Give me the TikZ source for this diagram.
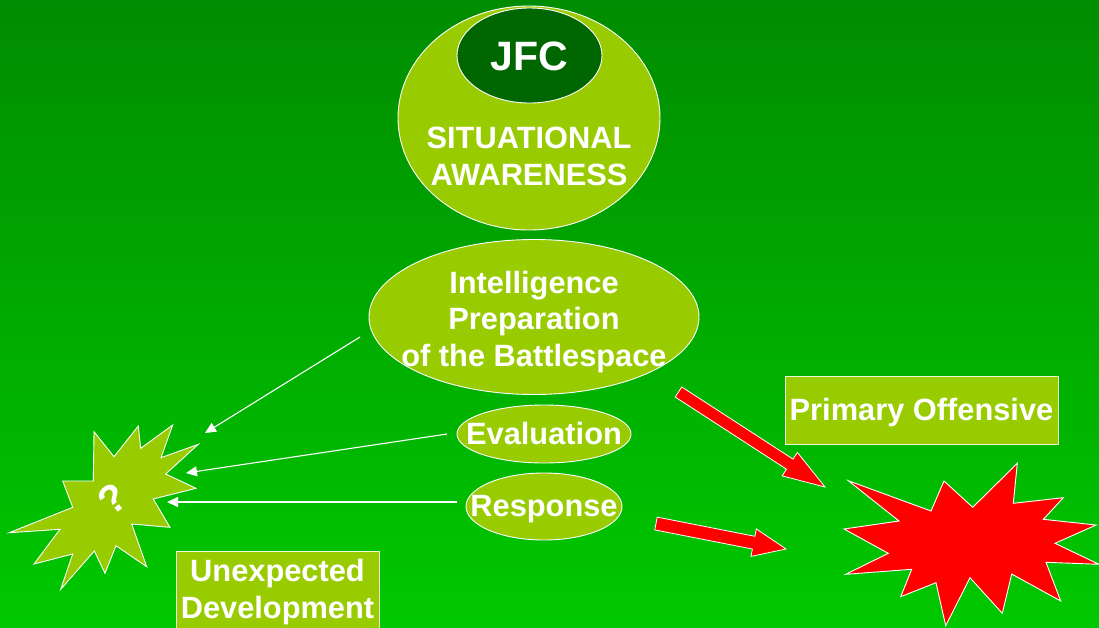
\documentclass[tikz,border=0pt]{standalone}
\usepackage{fontspec}
\setmainfont{Liberation Sans}
\usetikzlibrary{shapes.geometric,arrows.meta}

\definecolor{lime}{HTML}{99CC00}
\definecolor{jfcgreen}{HTML}{006600}
\definecolor{bgtop}{HTML}{008C00}
\definecolor{bgmid}{HTML}{00AE00}
\definecolor{bgbot}{HTML}{00C800}

\tikzset{
  oval/.style={ellipse, fill=lime, draw=white, line width=0.9pt, inner sep=0pt},
  label30/.style={text=white, font=\fontsize{30.8}{36.5}\selectfont\bfseries, inner sep=0pt, align=center},
  limebox/.style={rectangle, fill=lime, draw=white!85!lime, line width=0.9pt, inner sep=0pt},
  thinarrow/.style={draw=white, line width=1.1pt, -{Triangle[length=11pt,width=10pt]}},
  burst/.style={draw=white, line width=0.9pt, line join=miter},
  blockarrow/.style={fill=red, draw=white, line width=0.8pt}
}

% block arrow along local x: length, shaft half width, head length, head half width
\newcommand{\blockarrowshape}[4]{%
  (0,-#2) -- ({#1-#3},-#2) -- ({#1-#3},-#4) -- (#1,0) -- ({#1-#3},#4) -- ({#1-#3},#2) -- (0,#2) -- cycle}

\begin{document}
\begin{tikzpicture}[x=1pt,y=-1pt]
  \useasboundingbox (0,0) rectangle (1099,627);
  \clip (0,0) rectangle (1099,627);
  \shade[top color=bgtop, middle color=bgmid, bottom color=bgbot] (0,0) rectangle (1099,627);

  % situational awareness with the JFC at its core
  \node[oval, minimum width=262pt, minimum height=224pt] (sa) at (529,118) {};
  \node[ellipse, fill=jfcgreen, draw=white, line width=0.9pt, inner sep=0pt,
        minimum width=145pt, minimum height=95pt] (jfc) at (529.5,55.5) {};
  \node[text=white, font=\fontsize{41}{48}\selectfont\bfseries, anchor=base] (jfct) at (529,70) {JFC};
  \node[label30, anchor=base] (sat) at (529,185) {SITUATIONAL\\AWARENESS};

  % intelligence preparation
  \node[oval, minimum width=330pt, minimum height=155pt] (ipb) at (534,317) {};
  \node[label30, anchor=base] (ipbt) at (534,366) {Intelligence\\Preparation\\of the Battlespace};

  \node[oval, minimum width=174pt, minimum height=58pt] (eval) at (544,434) {};
  \node[label30, anchor=base] (evalt) at (544,444) {Evaluation};
  \node[oval, minimum width=156pt, minimum height=67pt] (resp) at (544,506.5) {};
  \node[label30, anchor=base] (respt) at (544,516.5) {Response};

  % labels in boxes
  \node[limebox, minimum width=273pt, minimum height=68pt] (po) at (921.5,410) {};
  \node[label30, anchor=base] (pot) at (921.5,420) {Primary Offensive};
  \node[limebox, minimum width=203pt, minimum height=120pt, anchor=north west] (ud) at (176,551) {};
  \node[label30, anchor=base] (udt) at (277.5,618) {Unexpected\\Development};

  % unexpected development burst
  \draw[burst, fill=lime] (94,431.7) -- (114,456.7) -- (138.3,426) -- (140.7,448.3) -- (172.7,425)
    -- (161,457.7) -- (198.3,444.3) -- (165.7,474) -- (196,488.3) -- (153.3,499) -- (170,527.3)
    -- (131.7,524) -- (146.7,566.7) -- (116,545.7) -- (105,573.3) -- (94.3,551) -- (60.7,589.3)
    -- (72.7,554) -- (34,564) -- (60,529.3) -- (9.3,532.7) -- (72.7,507.3) -- (62.7,481)
    -- (93.3,481) -- cycle;
  \node[text=white, font=\fontsize{40}{44}\selectfont\bfseries, rotate=38] (q) at (113,499) {?};

  % primary offensive burst
  \draw[burst, fill=red] (848.3,480.7) -- (931,511) -- (944,481) -- (972.7,507.3) -- (1017.3,463.3)
    -- (1013.3,503.3) -- (1063.3,497.7) -- (1043.3,519.3) -- (1096,525) -- (1055,543.3)
    -- (1099,564.3) -- (1046,562.3) -- (1060.7,601) -- (1011.7,574) -- (1002.3,613.3)
    -- (970,577.7) -- (945.7,625.7) -- (936,582.7) -- (900.7,596.7) -- (911.7,569.3)
    -- (845.7,574.3) -- (888.3,553.3) -- (844,529) -- (899,521) -- cycle;

  % feedback arrows towards the unexpected development
  \coordinate (ipbout) at (360,337);
  \coordinate (evalout) at (447,434);
  \coordinate (respout) at (457,502);
  \coordinate (udin1) at (205,433);
  \coordinate (udin2) at (186,473);
  \coordinate (udin3) at (167,502);
  \draw[thinarrow] (ipbout) -- (udin1);
  \draw[thinarrow] (evalout) -- (udin2);
  \draw[thinarrow] (respout) -- (udin3);

  % main effort arrows
  \begin{scope}[shift={(678.5,392)}, rotate=-32.96]
    \path[blockarrow] \blockarrowshape{174.6}{6}{42}{14};
  \end{scope}
  \begin{scope}[shift={(656,523.5)}, rotate=-11.1]
    \path[blockarrow] \blockarrowshape{132.5}{6.5}{33}{14};
  \end{scope}
\end{tikzpicture}
\end{document}
